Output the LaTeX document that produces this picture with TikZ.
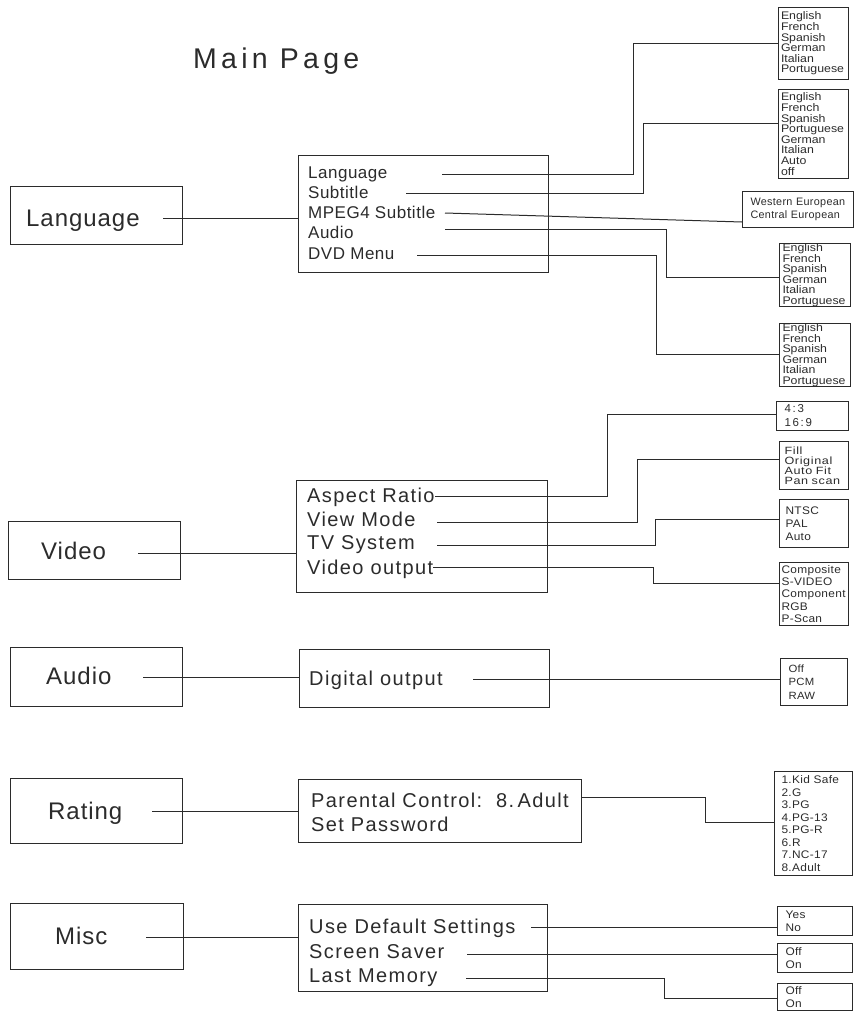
\documentclass[tikz,border=0pt]{standalone}
\usepackage{fontspec}
\setmainfont{Liberation Sans}
\newfontfamily\fTitle[LetterSpace=15]{Liberation Sans}
\newfontfamily\fCat[LetterSpace=4]{Liberation Sans}
\newfontfamily\fSubS[LetterSpace=3]{Liberation Sans}
\newfontfamily\fSub[LetterSpace=7]{Liberation Sans}
\newfontfamily\fList[FakeStretch=1.12]{Liberation Sans}
\newfontfamily\fListW[FakeStretch=1.2,LetterSpace=6]{Liberation Sans}
\newfontfamily\fListS[FakeStretch=1.08,LetterSpace=3]{Liberation Sans}
\newfontfamily\fWide[LetterSpace=3]{Liberation Sans}
\newfontfamily\fRatio[LetterSpace=15]{Liberation Sans}
\definecolor{ink}{HTML}{2B2B2B}
\tikzset{
  conn/.style={draw=ink, line width=1pt},
  bigbox/.style={draw=ink, line width=1.1pt, anchor=north west, inner sep=0pt, rectangle},
  lbl/.style={anchor=base west, inner sep=0pt, text=ink},
  catlbl/.style={lbl, font=\fCat\fontsize{24pt}{24pt}\selectfont},
  sublblS/.style={lbl, font=\fSubS\fontsize{17pt}{17pt}\selectfont},
  sublbl/.style={lbl, font=\fSub\fontsize{20pt}{20pt}\selectfont},
  listbox/.style={draw=ink, line width=1pt, anchor=north west, align=left, inner ysep=0pt, text=ink},
  langlist/.style={listbox, inner xsep=2.5pt, text width=65pt, font=\fList\fontsize{11pt}{10.6pt}\selectfont},
}
\begin{document}
\begin{tikzpicture}[x=1pt,y=-1pt]
\useasboundingbox (0,0) rectangle (854,1014);

\node[lbl, font=\fTitle\fontsize{28.5pt}{28.5pt}\selectfont] (title) at (193,69) {Main Page};

% ---------------- Language ----------------
\node[bigbox, minimum width=172pt, minimum height=58pt] (cLang) at (10,186) {};
\node[catlbl] (tLang) at (26,226) {Language};
\coordinate (cLangEnd) at (163,218);

\node[bigbox, minimum width=250pt, minimum height=117pt] (sLang) at (298,155) {};
\node[sublblS] (iLang) at (308,178) {Language};
\node[sublblS] (iSub) at (308,198) {Subtitle};
\node[sublblS] (iMp4) at (308,218) {MPEG4 Subtitle};
\node[sublblS] (iAud) at (308,238) {Audio};
\node[sublblS] (iDvd) at (308,259) {DVD Menu};
\coordinate (eLang) at (442,174);
\coordinate (eSub) at (406,193);
\coordinate (eMp4) at (445,213);
\coordinate (eAud) at (445,229);
\coordinate (eDvd) at (417,255);

\node[langlist, minimum width=70pt, minimum height=72pt] (b1) at (778,7)
  {English\\French\\Spanish\\German\\Italian\\Portuguese};
\node[langlist, minimum width=70pt, minimum height=89pt] (b2) at (778,89)
  {English\\French\\Spanish\\Portuguese\\German\\Italian\\Auto\\off};
\node[listbox, minimum width=111pt, minimum height=36pt, inner xsep=8pt, text width=95pt,
  font=\fWide\fontsize{10.8pt}{13pt}\selectfont] (b3) at (742,191)
  {\mbox{Western European}\\\mbox{Central European}};
\node[langlist, minimum width=71pt, minimum height=62pt] (b4) at (779,243)
  {English\\French\\Spanish\\German\\Italian\\Portuguese};
\node[langlist, minimum width=71pt, minimum height=62pt] (b5) at (779,323)
  {English\\French\\Spanish\\German\\Italian\\Portuguese};

\draw[conn] (cLangEnd) -- (cLangEnd -| sLang.west);
\draw[conn] (eLang) -| (633,44) -- (b1.west |- 0,44);
\draw[conn] (eSub) -| (643,124) -- (b2.west |- 0,124);
\draw[conn] (eMp4) -- (b3.west |- 0,222);
\draw[conn] (eAud) -| (666,277) -- (b4.west |- 0,277);
\draw[conn] (eDvd) -| (656,354) -- (b5.west |- 0,354);

% ---------------- Video ----------------
\node[bigbox, minimum width=172pt, minimum height=58pt] (cVid) at (8,521) {};
\node[catlbl] (tVid) at (41,559) {Video};
\coordinate (cVidEnd) at (138,553);

\node[bigbox, minimum width=251pt, minimum height=112pt] (sVid) at (296,480) {};
\node[sublbl] (iAR) at (307,502) {Aspect Ratio};
\node[sublbl] (iVM) at (307,526) {View Mode};
\node[sublbl] (iTV) at (307,549) {TV System};
\node[sublbl] (iVO) at (307,574) {Video output};
\coordinate (eAR) at (435,496);
\coordinate (eVM) at (437,522);
\coordinate (eTV) at (437,545);
\coordinate (eVO) at (433,567);

\node[listbox, minimum width=72pt, minimum height=29pt, inner xsep=8pt, text width=56pt,
  font=\fRatio\fontsize{11.5pt}{14pt}\selectfont] (bAR) at (776,401) {4:3\\16:9};
\node[listbox, minimum width=69pt, minimum height=48pt, inner xsep=5pt, text width=59pt,
  font=\fListW\fontsize{10.5pt}{10pt}\selectfont] (bVM) at (779,441) {Fill\\Original\\Auto Fit\\Pan scan};
\node[listbox, minimum width=69pt, minimum height=48pt, inner xsep=6pt, text width=57pt,
  font=\fListS\fontsize{11pt}{12.8pt}\selectfont] (bTV) at (779,499) {NTSC\\PAL\\Auto};
\node[listbox, minimum width=69pt, minimum height=63pt, inner xsep=2pt, text width=65pt,
  font=\fListS\fontsize{11pt}{12.4pt}\selectfont] (bVO) at (779,562) {Composite\\S-VIDEO\\Component\\RGB\\P-Scan};

\draw[conn] (cVidEnd) -- (cVidEnd -| sVid.west);
\draw[conn] (eAR) -| (607,414) -- (bAR.west |- 0,414);
\draw[conn] (eVM) -| (637,459) -- (bVM.west |- 0,459);
\draw[conn] (eTV) -| (655,519) -- (bTV.west |- 0,519);
\draw[conn] (eVO) -| (653,583) -- (bVO.west |- 0,583);

% ---------------- Audio ----------------
\node[bigbox, minimum width=172pt, minimum height=59pt] (cAud) at (10,647) {};
\node[catlbl] (tAud) at (46,684) {Audio};
\coordinate (cAudEnd) at (143,677);

\node[bigbox, minimum width=250pt, minimum height=58pt] (sAud) at (299,649) {};
\node[sublbl] (iDO) at (309,685) {Digital output};
\coordinate (eDO) at (473,679);

\node[listbox, minimum width=67pt, minimum height=47pt, inner xsep=8pt, text width=51pt,
  font=\fListS\fontsize{10.5pt}{13.4pt}\selectfont] (bDO) at (780,658) {Off\\PCM\\RAW};

\draw[conn] (cAudEnd) -- (cAudEnd -| sAud.west);
\draw[conn] (eDO) -- (bDO.west |- 0,679);

% ---------------- Rating ----------------
\node[bigbox, minimum width=172pt, minimum height=65pt] (cRat) at (10,778) {};
\node[catlbl] (tRat) at (48,819) {Rating};
\coordinate (cRatEnd) at (152,811);

\node[bigbox, minimum width=283pt, minimum height=63pt] (sRat) at (298,779) {};
\node[sublbl] (iPC) at (311,807) {Parental Control:\ \ 8.\,Adult};
\node[sublbl] (iSP) at (311,831) {Set Password};

\node[listbox, minimum width=78pt, minimum height=104pt, inner xsep=7pt, text width=64pt,
  font=\fListS\fontsize{11pt}{12.5pt}\selectfont] (bR) at (774,771)
  {1.Kid Safe\\2.G\\3.PG\\4.PG-13\\5.PG-R\\6.R\\7.NC-17\\8.Adult};

\draw[conn] (cRatEnd) -- (cRatEnd -| sRat.west);
\draw[conn] (sRat.east |- 0,797) -| (705,822) -- (bR.west |- 0,822);

% ---------------- Misc ----------------
\node[bigbox, minimum width=173pt, minimum height=66pt] (cMisc) at (10,903) {};
\node[catlbl] (tMisc) at (55,944) {Misc};
\coordinate (cMiscEnd) at (146,937);

\node[bigbox, minimum width=249pt, minimum height=87pt] (sMisc) at (298,904) {};
\node[sublbl] (iUD) at (309,933) {Use Default Settings};
\node[sublbl] (iSS) at (309,958) {Screen Saver};
\node[sublbl] (iLM) at (309,982) {Last Memory};
\coordinate (eUD) at (531,927);
\coordinate (eSS) at (467,954);
\coordinate (eLM) at (466,978);

\node[listbox, minimum width=75pt, minimum height=29pt, inner xsep=8pt, text width=59pt,
  font=\fListS\fontsize{11pt}{13pt}\selectfont] (bY) at (777,906) {Yes\\No};
\node[listbox, minimum width=75pt, minimum height=29pt, inner xsep=8pt, text width=59pt,
  font=\fListS\fontsize{11pt}{12.5pt}\selectfont] (bSS) at (777,943) {Off\\On};
\node[listbox, minimum width=75pt, minimum height=27pt, inner xsep=8pt, text width=59pt,
  font=\fListS\fontsize{11pt}{12.5pt}\selectfont] (bLM) at (777,983) {Off\\On};

\draw[conn] (cMiscEnd) -- (cMiscEnd -| sMisc.west);
\draw[conn] (eUD) -- (bY.west |- 0,927);
\draw[conn] (eSS) -- (bSS.west |- 0,954);
\draw[conn] (eLM) -| (664,998) -- (bLM.west |- 0,998);
\end{tikzpicture}
\end{document}
